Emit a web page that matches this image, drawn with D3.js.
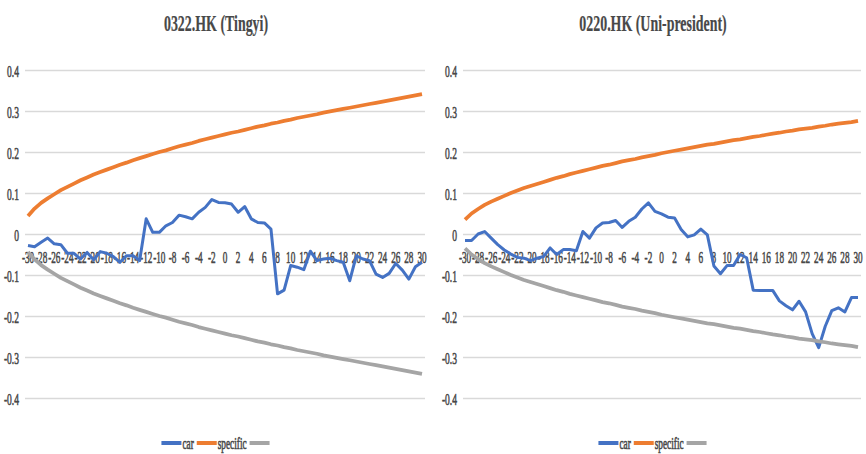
<!DOCTYPE html>
<html><head><meta charset="utf-8">
<script src="https://cdn.jsdelivr.net/npm/d3@7"></script>
<style>body{margin:0;background:#fff}svg{display:block}</style>
</head><body><svg id="c" width="866" height="454"></svg>
<script>
const days = [-30,-29,-28,-27,-26,-25,-24,-23,-22,-21,-20,-19,-18,-17,-16,-15,-14,-13,-12,-11,-10,-9,-8,-7,-6,-5,-4,-3,-2,-1,0,1,2,3,4,5,6,7,8,9,10,11,12,13,14,15,16,17,18,19,20,21,22,23,24,25,26,27,28,29,30];
const xTickLabels = ["-30","-28","-26","-24","-22","-20","-18","-16","-14","-12","-10","-8","-6","-4","-2","0","2","4","6","8","10","12","14","16","18","20","22","24","26","28","30"];
const yTicks = [0.4,0.3,0.2,0.1,0,-0.1,-0.2,-0.3,-0.4];
const yTickLabels = ["0.4","0.3","0.2","0.1","0","-0.1","-0.2","-0.3","-0.4"];
const seriesNames = ["car","specific",""];
const seriesColors = ["#4472C4","#ED7D31","#A5A5A5"];
const titles = ["0322.HK (Tingyi)","0220.HK (Uni-president)"];

const tingyiCar = [-0.028,-0.031,-0.020,-0.010,-0.024,-0.026,-0.047,-0.047,-0.061,-0.045,-0.063,-0.043,-0.047,-0.055,-0.069,-0.053,-0.053,-0.065,
  0.037,0.004,0.004,0.020,0.028,0.046,0.042,0.037,0.053,0.065,0.084,0.077,0.076,0.073,0.053,0.067,0.037,0.028,0.027,0.012,
  -0.146,-0.137,-0.077,-0.081,-0.087,-0.042,-0.065,-0.061,-0.059,-0.065,-0.069,-0.114,-0.053,-0.061,-0.065,-0.098,-0.106,-0.096,-0.072,-0.088,-0.110,-0.080,-0.069];
const tingyiUpper = [0.044,0.062,0.076,0.087,0.097,0.107,0.115,0.123,0.131,0.138,0.145,0.151,0.157,0.163,0.169,0.174,0.180,0.185,0.190,0.195,0.200,0.204,0.209,0.214,0.218,0.222,0.227,0.231,0.235,0.239,0.243,0.247,0.250,0.254,0.258,0.262,0.265,0.269,0.272,0.276,0.279,0.283,0.286,0.289,0.292,0.296,0.299,0.302,0.305,0.308,0.311,0.314,0.317,0.320,0.323,0.326,0.329,0.332,0.335,0.338,0.341];
const tingyiLower = [-0.044,-0.062,-0.076,-0.087,-0.097,-0.107,-0.115,-0.123,-0.131,-0.138,-0.145,-0.151,-0.157,-0.163,-0.169,-0.174,-0.180,-0.185,-0.190,-0.195,-0.200,-0.204,-0.209,-0.214,-0.218,-0.222,-0.227,-0.231,-0.235,-0.239,-0.243,-0.247,-0.250,-0.254,-0.258,-0.262,-0.265,-0.269,-0.272,-0.276,-0.279,-0.283,-0.286,-0.289,-0.292,-0.296,-0.299,-0.302,-0.305,-0.308,-0.311,-0.314,-0.317,-0.320,-0.323,-0.326,-0.329,-0.332,-0.335,-0.338,-0.341];

const uniCar = [-0.016,-0.016,0.000,0.006,-0.010,-0.026,-0.039,-0.049,-0.057,-0.059,-0.065,-0.059,-0.055,-0.034,-0.050,-0.038,-0.038,-0.041,
  0.006,-0.010,0.015,0.027,0.028,0.033,0.016,0.031,0.041,0.061,0.076,0.055,0.049,0.041,0.039,0.011,-0.007,-0.002,0.012,-0.002,
  -0.078,-0.097,-0.077,-0.077,-0.050,-0.058,-0.137,-0.138,-0.138,-0.138,-0.163,-0.175,-0.185,-0.164,-0.190,-0.243,-0.277,-0.225,-0.187,-0.180,-0.190,-0.155,-0.155];
const uniUpper = [0.035,0.050,0.061,0.071,0.079,0.086,0.093,0.100,0.106,0.112,0.117,0.122,0.127,0.132,0.137,0.141,0.146,0.150,0.154,0.158,0.162,0.166,0.169,0.173,0.177,0.180,0.183,0.187,0.190,0.193,0.197,0.200,0.203,0.206,0.209,0.212,0.215,0.218,0.220,0.223,0.226,0.229,0.231,0.234,0.237,0.239,0.242,0.245,0.247,0.250,0.252,0.255,0.257,0.259,0.262,0.264,0.267,0.269,0.271,0.273,0.276];
const uniLower = [-0.035,-0.050,-0.061,-0.071,-0.079,-0.086,-0.093,-0.100,-0.106,-0.112,-0.117,-0.122,-0.127,-0.132,-0.137,-0.141,-0.146,-0.150,-0.154,-0.158,-0.162,-0.166,-0.169,-0.173,-0.177,-0.180,-0.183,-0.187,-0.190,-0.193,-0.197,-0.200,-0.203,-0.206,-0.209,-0.212,-0.215,-0.218,-0.220,-0.223,-0.226,-0.229,-0.231,-0.234,-0.237,-0.239,-0.242,-0.245,-0.247,-0.250,-0.252,-0.255,-0.257,-0.259,-0.262,-0.264,-0.267,-0.269,-0.271,-0.273,-0.276];

const svg = d3.select("#c");
const FONT = "'Liberation Serif', 'Times New Roman', serif";
const TXT = "#484848";

function sqText(g, str, x, y, size, sq, anchor, baseline, weight, sw) {
  return g.append("text")
    .attr("transform", `translate(${x},${y}) scale(${sq},1)`)
    .attr("font-family", FONT).attr("font-size", size)
    .attr("font-weight", weight || "normal")
    .attr("fill", TXT).attr("stroke", TXT).attr("stroke-width", sw == null ? 0.6 : sw)
    .attr("text-anchor", anchor || "start")
    .attr("dominant-baseline", baseline || "auto")
    .text(str);
}

function panel(cfg) {
  const g = svg.append("g");
  const x = d3.scalePoint().domain(days).range([cfg.px0, cfg.px1]);
  const y = d3.scaleLinear().domain([-0.4, 0.4]).range([398, 70]);

  const ax = d3.axisLeft(y).tickValues(yTicks).tickSize(-(cfg.g1 - cfg.g0)).tickFormat("");
  const ga = g.append("g").attr("transform", `translate(${cfg.g0},0)`).call(ax);
  ga.select(".domain").remove();
  ga.selectAll(".tick line").attr("stroke", "#d9d9d9").attr("stroke-width", 1.6);

  yTicks.forEach((v, i) => sqText(g, yTickLabels[i], cfg.ylab, y(v) + 1, 17, 0.56, "end", "central"));
  xTickLabels.forEach(l => sqText(g, l, x(+l), y(0) + 23, 17, 0.54, "middle", "central"));

  sqText(g, cfg.title, cfg.cx, 31, 24, 0.58, "middle", "auto", "bold", 0.2);

  const line = d3.line().x((d, i) => x(days[i])).y(d => y(d));
  const widths = [3, 3.75, 3.75];
  cfg.series.forEach((s, k) => {
    g.append("path").datum(s).attr("d", line).attr("fill", "none")
      .attr("stroke", seriesColors[k]).attr("stroke-width", widths[k])
      .attr("stroke-linejoin", "round");
  });

  const lg = g.append("g");
  let cur = 0;
  const ly = 443;
  seriesNames.forEach((n, k) => {
    lg.append("line").attr("x1", cur).attr("x2", cur + 20).attr("y1", ly).attr("y2", ly)
      .attr("stroke", seriesColors[k]).attr("stroke-width", 4);
    cur += 21;
    if (n) {
      const t = sqText(lg, n, cur, ly, 16, 0.58, "start", "central");
      cur += t.node().getComputedTextLength() * 0.58 + 3;
    }
  });
  lg.attr("transform", `translate(${cfg.cx - cur / 2},0)`);
}

panel({title: titles[0], px0: 28, px1: 422, g0: 25, g1: 425, ylab: 19, cx: 216,
       series: [tingyiCar, tingyiUpper, tingyiLower]});
panel({title: titles[1], px0: 465, px1: 858, g0: 463, g1: 861, ylab: 457, cx: 653,
       series: [uniCar, uniUpper, uniLower]});
</script></body></html>
